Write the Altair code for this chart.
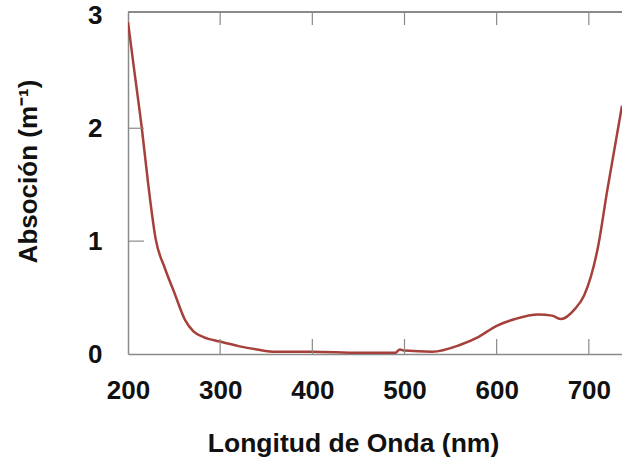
import altair as alt
import pandas as pd

wavelength = [200, 207, 215, 222, 230, 240, 250, 262, 271, 282, 300, 320, 340, 360,
              380, 400, 450, 490, 495, 500, 530, 560, 580, 600, 620, 645, 660, 670,
              685, 695, 710, 720, 736]
absorption = [2.94, 2.5, 2.0, 1.5, 1.02, 0.76, 0.55, 0.30, 0.20, 0.15, 0.11, 0.07,
              0.04, 0.02, 0.02, 0.02, 0.01, 0.01, 0.04, 0.03, 0.02, 0.08, 0.15, 0.25,
              0.31, 0.35, 0.34, 0.31, 0.40, 0.52, 0.95, 1.45, 2.2]
x_ticks = [200, 300, 400, 500, 600, 700]
y_ticks = [0, 1, 2, 3]
inner_x_ticks = [300, 400, 500, 600, 700]
inner_y_ticks = [1, 2]

W, H = 494, 342
FONT = "Liberation Sans"
GRAY = "#8a8a8a"

df = pd.DataFrame({"wl": wavelength, "a": absorption})
xscale = alt.Scale(domain=[200, 736], nice=False, zero=False)
yscale = alt.Scale(domain=[0, 3.03], nice=False)

xaxis = alt.Axis(values=x_ticks, title="Longitud de Onda (nm)", grid=False,
                 domain=True, domainColor=GRAY, domainWidth=1.5,
                 ticks=False, tickSize=0, labelPadding=44, labelFlush=False,
                 labelBaseline="alphabetic", labelFont=FONT, labelFontSize=26,
                 labelFontWeight="bold", labelColor="#111",
                 titleFont=FONT, titleFontSize=26.5, titleFontWeight="bold",
                 titleColor="#111", titleX=225, titleY=97,
                 titleBaseline="alphabetic", titleAlign="center")
yaxis = alt.Axis(values=y_ticks, title="Absoción (m⁻¹)", grid=False,
                 domain=True, domainColor=GRAY, domainWidth=1.5,
                 ticks=False, tickSize=0, labelPadding=26, labelFlush=False,
                 labelBaseline="middle", labelFont=FONT, labelFontSize=26,
                 labelFontWeight="bold", labelColor="#111",
                 titleFont=FONT, titleFontSize=26, titleFontWeight="bold",
                 titleColor="#111", titleX=-100, titleY=159,
                 titleBaseline="middle", titleAlign="center", titleAngle=270)

line = alt.Chart(df).mark_line(color="#a5403a", strokeWidth=2.5, clip=True,
                               interpolate="monotone").encode(
    x=alt.X("wl:Q", scale=xscale, axis=xaxis),
    y=alt.Y("a:Q", scale=yscale, axis=yaxis),
)

ytick_df = pd.DataFrame({"v": inner_y_ticks})
xtick_df = pd.DataFrame({"v": inner_x_ticks})

ytk = alt.Chart(ytick_df).mark_rule(color=GRAY, strokeWidth=1.2).encode(
    y=alt.Y("v:Q", scale=yscale, axis=yaxis), x=alt.value(0), x2=alt.value(16))
xtk_b = alt.Chart(xtick_df).mark_rule(color=GRAY, strokeWidth=1.2).encode(
    x=alt.X("v:Q", scale=xscale, axis=xaxis), y=alt.value(H), y2=alt.value(H - 15))
xtk_t = alt.Chart(xtick_df).mark_rule(color=GRAY, strokeWidth=1.2).encode(
    x=alt.X("v:Q", scale=xscale, axis=xaxis), y=alt.value(0), y2=alt.value(13))
top_border = alt.Chart(xtick_df).mark_rule(color=GRAY, strokeWidth=1.5).encode(
    y=alt.value(0), x=alt.value(0), x2=alt.value(W))

chart = alt.layer(line, ytk, xtk_b, xtk_t, top_border).properties(
    width=W, height=H,
    autosize=alt.AutoSizeParams(type="none"),
    padding={"left": 128, "top": 12, "right": 0, "bottom": 105},
    background="white",
).configure_view(stroke=None)

chart.save("out.html", embed_options={"renderer": "svg", "actions": False})
